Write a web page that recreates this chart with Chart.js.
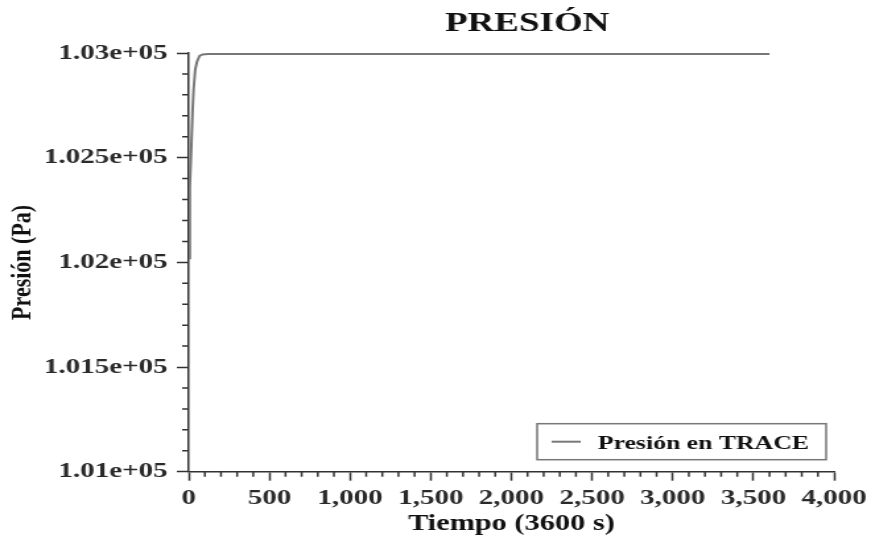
<!DOCTYPE html>
<html>
<head>
<meta charset="utf-8">
<title>PRESIÓN</title>
<script src="https://cdn.jsdelivr.net/npm/chart.js@4"></script>
<style>
  html, body { margin: 0; padding: 0; background: #fff; overflow: hidden; }
  /* drawn narrow, then stretched to the page width */
  #wrap { width: 660px; height: 535px; transform: scaleX(1.3197); transform-origin: 0 0; }
  #chart { display: block; }
</style>
</head>
<body>
<div id="wrap"><canvas id="chart" width="660" height="535"></canvas></div>
<script>
// Tiempo (s) and Presión (Pa) for the TRACE run
const tiempo  = [0, 5, 8, 16, 24, 30, 40, 51, 67, 86, 120, 3600];
const presion = [102020, 102200, 102360, 102552, 102728, 102823, 102919, 102958, 102986, 102993, 102995, 102995];

const xTicks = [0, 500, 1000, 1500, 2000, 2500, 3000, 3500, 4000];
const yTicks = [101000, 101500, 102000, 102500, 103000];

const serif = "'Liberation Serif', 'Times New Roman', serif";
Chart.defaults.font.family = serif;
Chart.defaults.font.weight = 'bold';

// 1.025e+05 style labels
function fmtExp(v) {
  const parts = Number(v).toExponential().split('e');
  const sign = parts[1][0];
  return parts[0] + 'e' + sign + parts[1].slice(1).padStart(2, '0');
}

const titlePlugin = {
  id: 'plotTitle',
  afterDraw(chart) {
    const { ctx, chartArea } = chart;
    ctx.save();
    ctx.font = "bold 28px " + serif;
    ctx.fillStyle = '#111';
    ctx.textAlign = 'center';
    ctx.textBaseline = 'alphabetic';
    ctx.fillText('PRESIÓN', (chartArea.left + chartArea.right) / 2 + 12, 31);
    ctx.restore();
  }
};

// small ticks between the labelled ones
const minorTicks = {
  id: 'minorTicks',
  afterDraw(chart) {
    const { ctx, chartArea, scales } = chart;
    ctx.save();
    ctx.strokeStyle = '#333';
    ctx.lineWidth = 1.5;
    ctx.beginPath();
    for (let v = scales.x.min; v <= scales.x.max; v += 100) {
      if (v % 500 === 0) continue;
      const px = scales.x.getPixelForValue(v);
      ctx.moveTo(px, chartArea.bottom);
      ctx.lineTo(px, chartArea.bottom + 5);
    }
    for (let v = scales.y.min; v <= scales.y.max; v += 100) {
      if (v % 500 === 0) continue;
      const py = scales.y.getPixelForValue(v);
      ctx.moveTo(chartArea.left, py);
      ctx.lineTo(chartArea.left - 5, py);
    }
    ctx.stroke();
    ctx.restore();
  }
};

// boxed legend in the lower right corner of the plot
const boxLegend = {
  id: 'boxLegend',
  afterDraw(chart) {
    const { ctx, chartArea } = chart;
    const ds = chart.data.datasets[0];
    const w = 219, h = 36;
    const left = chartArea.right - 6 - w;
    const top = chartArea.bottom - 12 - h;
    ctx.save();
    ctx.fillStyle = '#fff';
    ctx.fillRect(left, top, w, h);
    ctx.strokeStyle = '#777';
    ctx.lineWidth = 1.5;
    ctx.strokeRect(left, top, w, h);
    ctx.strokeStyle = ds.borderColor;
    ctx.lineWidth = 2;
    ctx.beginPath();
    ctx.moveTo(left + 11, top + 18);
    ctx.lineTo(left + 33, top + 18);
    ctx.stroke();
    ctx.font = "bold 19.5px " + serif;
    ctx.fillStyle = '#111';
    ctx.textBaseline = 'alphabetic';
    ctx.fillText(ds.label, left + 46, top + 25);
    ctx.restore();
  }
};

const axisGrid = {
  display: true,
  drawOnChartArea: false,
  drawTicks: true,
  tickLength: 9,
  tickColor: '#333',
  tickWidth: 1.5
};

new Chart(document.getElementById('chart'), {
  type: 'line',
  data: {
    datasets: [{
      label: 'Presión en TRACE',
      data: tiempo.map((t, i) => ({ x: t, y: presion[i] })),
      borderColor: '#777',
      borderWidth: 2,
      pointRadius: 0,
      tension: 0,
      fill: false
    }]
  },
  options: {
    responsive: false,
    animation: false,
    events: [],
    layout: { padding: { top: 53, right: 28, bottom: 0, left: 0 } },
    plugins: {
      legend: { display: false },
      title: { display: false },
      tooltip: { enabled: false }
    },
    scales: {
      x: {
        type: 'linear',
        min: 0,
        max: 4000,
        afterBuildTicks: s => { s.ticks = xTicks.map(v => ({ value: v })); },
        ticks: {
          autoSkip: false,
          maxRotation: 0,
          padding: 4,
          color: '#2a2a2a',
          font: { size: 22, weight: 'bold' },
          callback: v => Number(v).toLocaleString('en-US')
        },
        grid: axisGrid,
        border: { display: true, color: '#333', width: 1.5 },
        title: {
          display: true,
          text: 'Tiempo (3600 s)',
          color: '#111',
          font: { size: 23, weight: 'bold' },
          padding: { top: 0, bottom: -3 }
        },
        afterFit: s => { s.height = 63.3; s.paddingRight = 0; s.paddingLeft = 0; }
      },
      y: {
        type: 'linear',
        min: 101000,
        max: 103000,
        afterBuildTicks: s => { s.ticks = yTicks.map(v => ({ value: v })); },
        ticks: {
          autoSkip: false,
          padding: 7,
          color: '#2a2a2a',
          font: { size: 22, weight: 'bold' },
          callback: fmtExp
        },
        grid: axisGrid,
        border: { display: true, color: '#333', width: 1.5 },
        title: {
          display: true,
          text: 'Presión (Pa)',
          color: '#111',
          font: { size: 22, weight: 'bold' },
          padding: { top: 4, bottom: 0 }
        },
        afterFit: s => { s.width = 143; }
      }
    }
  },
  plugins: [minorTicks, boxLegend, titlePlugin]
});
</script>
</body>
</html>
